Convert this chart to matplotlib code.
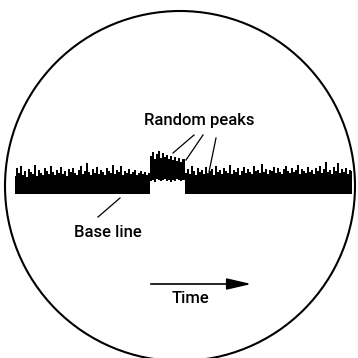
import numpy as np
import matplotlib
matplotlib.use("Agg")
import matplotlib.pyplot as plt
from matplotlib.patches import Circle

# signal heights above the base line (trace units)
left_top = [18, 26, 21, 28, 19, 23, 17, 25, 22, 20,
            29, 18, 24, 21, 19, 26, 23, 20, 28, 22,
            19, 24, 21, 27, 20, 23, 18, 25, 22, 26,
            21, 19, 24, 28, 20, 23, 31, 22, 19, 25,
            21, 27, 20, 24, 22, 19, 26, 23, 21, 29,
            20, 24, 22, 28, 19, 23, 21, 25, 20, 22,
            24, 19, 21, 23, 20, 22, 19, 21]
peak_top = [38, 42, 35, 40, 43, 36, 41, 37, 39, 35, 38, 34, 37, 33, 36, 32, 35]
peak_bottom = [13, 14, 12, 15, 14, 13, 14, 15, 13, 14, 12, 14, 13, 15, 14, 13, 14]
right_top = [21, 25, 20, 28, 23, 19, 26, 22, 24, 20,
             27, 21, 23, 25, 19, 28, 22, 24, 20, 26,
             23, 21, 29, 20, 24, 22, 26, 19, 23, 27,
             21, 25, 22, 20, 28, 23, 24, 21, 30, 22,
             25, 20, 24, 23, 27, 21, 26, 22, 20, 25,
             28, 23, 21, 26, 22, 24, 29, 20, 25, 23,
             21, 27, 22, 24, 20, 26, 23, 28, 21, 25,
             32, 22, 24, 20, 27, 23, 31, 21, 25, 22,
             26, 20, 24, 23]

labels = ["Random peaks", "Base line", "Time"]

top = np.array(left_top + peak_top + right_top, dtype=float)
bottom = np.concatenate([np.zeros(len(left_top)), peak_bottom, np.zeros(len(right_top))])
t = np.linspace(15, 352, len(top))
base = 194

plt.rcParams["font.family"] = ["Roboto", "DejaVu Sans"]

fig = plt.figure(figsize=(3.58, 3.58), dpi=100)
ax = fig.add_axes([0, 0, 1, 1])
ax.set_xlim(0, 358)
ax.set_ylim(358, 0)
ax.axis("off")

ax.add_patch(Circle((180, 186), 175, fill=False, lw=1.5, color="black"))

ax.fill_between(t, base - bottom, base - top, step="mid", color="black", lw=0)

# pointers
for (x0, y0), (x1, y1) in [((194, 135), (173, 153)),
                           ((203, 135), (186, 160)),
                           ((216, 138), (209, 172)),
                           ((120, 198), (98, 217))]:
    ax.plot([x0, x1], [y0, y1], color="black", lw=0.9)

ax.annotate("", xy=(254, 284), xytext=(148, 284),
            arrowprops=dict(arrowstyle="-|>,head_length=1.5,head_width=0.35",
                            color="black", lw=1.2))

ax.text(199, 125, labels[0], ha="center", va="baseline", fontsize=12, fontweight="medium")
ax.text(108, 237, labels[1], ha="center", va="baseline", fontsize=12, fontweight="medium")
ax.text(191, 303, labels[2], ha="center", va="baseline", fontsize=12, fontweight="medium")

fig.savefig("out.png", dpi=100)
